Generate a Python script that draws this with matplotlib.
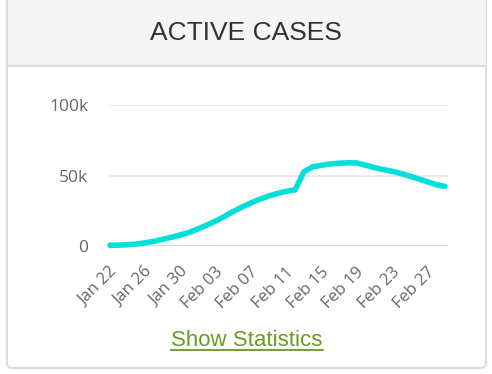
import matplotlib
matplotlib.use("Agg")
import matplotlib.pyplot as plt
from matplotlib.patches import FancyBboxPatch, Rectangle
from matplotlib.lines import Line2D
from matplotlib.transforms import ScaledTranslation

# ---- data ----
dates = ["Jan 22", "Jan 23", "Jan 24", "Jan 25", "Jan 26", "Jan 27", "Jan 28", "Jan 29",
         "Jan 30", "Jan 31", "Feb 01", "Feb 02", "Feb 03", "Feb 04", "Feb 05", "Feb 06",
         "Feb 07", "Feb 08", "Feb 09", "Feb 10", "Feb 11", "Feb 12", "Feb 13", "Feb 14",
         "Feb 15", "Feb 16", "Feb 17", "Feb 18", "Feb 19", "Feb 20", "Feb 21", "Feb 22",
         "Feb 23", "Feb 24", "Feb 25", "Feb 26", "Feb 27", "Feb 28", "Feb 29"]
active = [500, 650, 900, 1400, 2300, 3300, 4800, 6200, 7900, 9700, 12200, 14800, 17800,
          21000, 24600, 27700, 30600, 33200, 35400, 37300, 38800, 39800, 52600, 56200,
          57300, 58200, 58700, 59000, 58900, 57300, 55600, 54200, 53000, 51400, 49600,
          47600, 45600, 43500, 42300]
y_ticks = [0, 50000, 100000]
y_tick_labels = ["0", "50k", "100k"]
title = "ACTIVE CASES"
link_text = "Show Statistics"

W, H = 492, 374
fig = plt.figure(figsize=(W / 100, H / 100), dpi=100)
fig.patch.set_facecolor("white")

def fx(px):
    return px / W

def fy(py):
    return 1 - py / H

# card
card = FancyBboxPatch((fx(7), fy(368)), fx(486) - fx(7), fy(-20) - fy(368),
                      boxstyle="round,pad=0,rounding_size=0.012",
                      transform=fig.transFigure, facecolor="white",
                      edgecolor="#dddddd", linewidth=1.5, zorder=-3)
fig.patches.append(card)
header = Rectangle((fx(7.5), fy(66)), fx(485.5) - fx(7.5), fy(-5) - fy(66),
                   transform=fig.transFigure, facecolor="#f5f5f5",
                   edgecolor="none", zorder=-2)
fig.patches.append(header)
fig.lines.append(Line2D([fx(7), fx(486)], [fy(66), fy(66)], transform=fig.transFigure,
                        color="#dddddd", linewidth=1.5, zorder=-1))

fig.text(fx(245.5), fy(33), title, ha="center", va="center", fontsize=19,
         family="Liberation Sans", color="#333333")
fig.text(fx(247), fy(340), link_text, ha="center", va="center", fontsize=16,
         family="Liberation Sans", color="#6a9a1f")
fig.lines.append(Line2D([fx(171), fx(323)], [fy(350), fy(350)], transform=fig.transFigure,
                        color="#6a9a1f", linewidth=1.3))

# plot area
ax = fig.add_axes([fx(109), fy(246), fx(448) - fx(109), (246 - 105) / H])
ax.set_zorder(5)
ax.set_facecolor("none")
x = list(range(len(dates)))
ax.plot(x, active, color="#00dfda", linewidth=4.0, solid_joinstyle="round",
        solid_capstyle="round", zorder=3, clip_on=False)
ax.set_ylim(0, 100000)
ppd = (445 - 110) / (len(dates) - 1)
ax.set_xlim(-1 / ppd, (len(dates) - 1) + 3 / ppd)
for s in ax.spines.values():
    s.set_visible(False)
ax.set_yticks(y_ticks)
ax.set_yticklabels(y_tick_labels)
for v in y_ticks[1:]:
    ax.axhline(v, color="#e6e6e6", linewidth=1.2, zorder=1)
ax.axhline(0, color="#ccd6eb", linewidth=1.2, zorder=1)
ax.tick_params(axis="y", length=0, pad=15, labelsize=12.5, labelcolor="#666666")
for lab in ax.get_yticklabels():
    lab.set_family("Open Sans")
    lab.set_horizontalalignment("right")
xt = x[::4]
ax.set_xticks(xt)
ax.set_xticklabels([dates[i] for i in xt], rotation=45, ha="right", va="center",
                   rotation_mode="anchor", family="Open Sans")
ax.tick_params(axis="x", length=0, pad=17, labelsize=12, labelcolor="#666666")
for lab in ax.get_xticklabels():
    lab.set_transform(lab.get_transform() + ScaledTranslation(5 / 100, 0, fig.dpi_scale_trans))

fig.savefig("out.png", dpi=100, facecolor="white")
